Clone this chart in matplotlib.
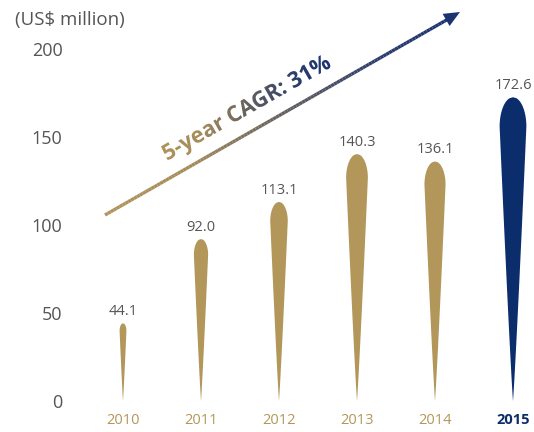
import numpy as np
import matplotlib.pyplot as plt
from matplotlib.collections import LineCollection
from matplotlib.textpath import TextPath
from matplotlib.patches import PathPatch, Polygon
from matplotlib.font_manager import FontProperties
from matplotlib.colors import LinearSegmentedColormap
import matplotlib.transforms as mtransforms

plt.rcParams['font.family'] = ['Open Sans', 'DejaVu Sans']

years = ['2010', '2011', '2012', '2013', '2014', '2015']
values = [44.1, 92.0, 113.1, 140.3, 136.1, 172.6]
yticks = [0, 50, 100, 150, 200]
unit_label = '(US$ million)'
cagr_label = '5-year CAGR: 31%'

GOLD = '#B2965A'
NAVY = '#0C2D6C'
GRAY = '#555555'

W, H = 534, 432
fig = plt.figure(figsize=(W / 100, H / 100), dpi=100)

# main axes, placed in pixels
left, bottom, right, top = 75, 31, 534, 432
ax = fig.add_axes([left / W, bottom / H, (right - left) / W, (top - bottom) / H])
px_x = 78.0    # pixels per category
px_y = 1.76    # pixels per US$ million
x0 = -(123 - left) / px_x
ax.set_xlim(x0, x0 + (right - left) / px_x)
ax.set_ylim(0, (top - bottom) / px_y)


def drop(ax, x, h, w_px, color):
    # teardrop: pointed tip at zero, rounded cap at the value
    hw = w_px / 2 / px_x
    cap = 2.2 * (w_px / 2) / px_y
    y = np.linspace(0, h, 300)
    y0 = h - cap
    half = np.where(y <= y0,
                    hw * (np.clip(y / y0, 0, 1)) ** 0.9,
                    hw * np.sqrt(np.clip(1 - ((y - y0) / cap) ** 2, 0, 1)))
    xs = np.concatenate([x - half, (x + half)[::-1]])
    ys = np.concatenate([y, y[::-1]])
    ax.fill(xs, ys, color=color, lw=0)


for i, v in enumerate(values):
    c = NAVY if i == len(values) - 1 else GOLD
    drop(ax, i, v, 0.155 * v, c)
    ax.annotate(f'{v:.1f}', (i, v), xytext=(0, 3), textcoords='offset points',
                ha='center', va='bottom', fontsize=10.5, color=GRAY)

ax.set_yticks(yticks)
ax.set_yticklabels([str(t) for t in yticks], fontsize=13, color=GRAY)
ax.set_xticks(range(len(years)))
ax.set_xticklabels(years, fontsize=10.5)
for i, lab in enumerate(ax.get_xticklabels()):
    if i == len(years) - 1:
        lab.set_color(NAVY)
        lab.set_fontweight('bold')
    else:
        lab.set_color(GOLD)
ax.tick_params(axis='y', length=0, pad=9)
ax.tick_params(axis='x', length=0, pad=9)
for s in ax.spines.values():
    s.set_visible(False)

fig.text(15 / W, 1 - 20 / H, unit_label, fontsize=13.5, color=GRAY,
         ha='left', va='center')

# overlay in pixel units for the CAGR arrow
ov = fig.add_axes([0, 0, 1, 1], zorder=5)
ov.set_xlim(0, W)
ov.set_ylim(0, H)
ov.axis('off')
ov.patch.set_alpha(0)

grad = LinearSegmentedColormap.from_list(
    'cagr', [(0.0, '#B0945A'), (0.25, '#A38B5C'), (0.5, '#67625E'),
             (0.8, '#2C3D6C'), (1.0, '#1C3370')])

p0 = np.array([105, H - 215])
p1 = np.array([450, H - 18])
t = np.linspace(0, 1, 120)
pts = p0 + (p1 - p0) * t[:, None]
segs = np.stack([pts[:-1], pts[1:]], axis=1)
lc = LineCollection(segs, colors=grad(t[:-1]), linewidths=2.4,
                    capstyle='butt')
ov.add_collection(lc)

ang = np.arctan2(p1[1] - p0[1], p1[0] - p0[0])
d = np.array([np.cos(ang), np.sin(ang)])
n = np.array([-d[1], d[0]])
tip = np.array([460, H - 12])
base = tip - 16 * d
head = Polygon([tip, base + 7 * n, base - 7 * n], closed=True,
               color='#1C3370', lw=0)
ov.add_patch(head)

# gradient-filled label along the arrow
fp = FontProperties(family='Open Sans', weight='bold')
tp = TextPath((0, 0), cagr_label, size=22, prop=fp)
tr = mtransforms.Affine2D().rotate(ang).translate(167, H - 161)
tpath = tr.transform_path(tp)
ext = tpath.get_extents()
patch = PathPatch(tpath, facecolor='none', edgecolor='none')
ov.add_patch(patch)
g = np.linspace(0, 1, 256)[None, :]
im = ov.imshow(g, cmap=grad, extent=[ext.x0, ext.x1, ext.y0, ext.y1],
               aspect='auto', origin='lower', zorder=6)
im.set_clip_path(patch)
ov.set_xlim(0, W)
ov.set_ylim(0, H)

fig.savefig('out.png', dpi=100)
